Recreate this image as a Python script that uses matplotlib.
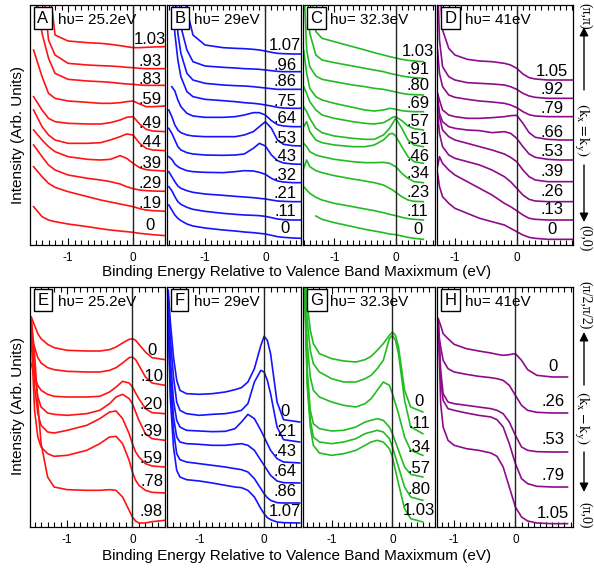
import numpy as np
import matplotlib.pyplot as plt
from matplotlib.ticker import MultipleLocator
from matplotlib.transforms import blended_transform_factory

plt.rcParams['font.family'] = ['Liberation Sans', 'DejaVu Sans']
plt.rcParams['axes.unicode_minus'] = False
plt.rcParams['mathtext.fontset'] = 'stix'

nan = np.nan

# ---- top row: cut along kx=ky ----
# A, hv = 25.2 eV
x_a = [-1.53, -1.4, -1.3, -1.2, -1.0, -0.7, -0.5, -0.35, -0.2, -0.1, 0.0, 0.1, 0.2, 0.3, 0.5]
k_a = ['0', '.19', '.29', '.39', '.44', '.49', '.59', '.83', '.93', '1.03']
y_a = [
    [115, 85, 75, 70, 63, 55, 49, 45, 42, 40, 38, 35, 33, 31, 28],
    [235, 205, 185, 173, 160, 145, 135, 129, 123, 119, 115, 109, 105, 103, 101],
    [300, 265, 240, 225, 210, 200, 195, 190, 183, 175, 169, 165, 163, 162, 161],
    [345, 315, 295, 280, 265, 257, 255, 257, 268, 260, 245, 232, 226, 224, 222],
    [405, 355, 330, 315, 305, 305, 307, 315, 325, 333, 330, 305, 290, 285, 283],
    [445, 405, 380, 370, 365, 363, 363, 367, 375, 383, 385, 363, 347, 342, 340],
    [585, 505, 455, 440, 432, 428, 425, 425, 427, 430, 432, 423, 415, 415, 417],
    [800, 635, 560, 515, 497, 492, 490, 488, 485, 483, 482, 480, 479, 479, 479],
    [nan, 800, 615, 570, 545, 540, 538, 537, 535, 533, 532, 530, 529, 529, 529],
    [nan, nan, 800, 630, 612, 607, 605, 602, 598, 595, 592, 592, 593, 594, 595],
]
lab_a = [60, 123, 183, 245, 307, 365, 437, 497, 550, 615]

# B, hv = 29 eV
x_b = [-1.6, -1.55, -1.5, -1.45, -1.4, -1.3, -1.2, -1.0, -0.7, -0.5, -0.35, -0.2, -0.1, 0.0, 0.1, 0.2, 0.3, 0.45, 0.6]
k_b = ['0', '.11', '.21', '.32', '.43', '.53', '.64', '.75', '.86', '.96', '1.07']
y_b = [
    [120, 105, 90, 80, 73, 63, 57, 51, 45, 42, 39, 37, 35, 33, 29, 25, 23, 21, 20],
    [175, 163, 145, 130, 122, 113, 107, 101, 95, 92, 90, 89, 88, 86, 82, 78, 76, 75, 75],
    [220, 205, 190, 177, 170, 163, 158, 153, 149, 146, 144, 142, 140, 138, 135, 132, 131, 130, 130],
    [265, 257, 243, 235, 230, 223, 220, 218, 217, 220, 223, 222, 218, 212, 200, 192, 189, 187, 187],
    [350, 335, 315, 295, 285, 277, 273, 270, 269, 270, 273, 290, 305, 297, 270, 253, 246, 243, 242],
    [405, 385, 360, 345, 337, 330, 327, 325, 325, 325, 330, 340, 355, 370, 350, 315, 302, 298, 297],
    [nan, 475, 462, 435, 415, 395, 387, 383, 383, 385, 390, 397, 397, 390, 373, 361, 357, 355, 355],
    [nan, 800, 635, 555, 505, 460, 445, 437, 433, 430, 427, 425, 423, 420, 417, 413, 411, 410, 410],
    [nan, nan, 800, 635, 575, 515, 495, 485, 480, 478, 477, 475, 473, 471, 469, 467, 467, 467, 467],
    [nan, nan, nan, 800, 655, 585, 550, 537, 533, 531, 529, 528, 527, 525, 523, 521, 520, 520, 520],
    [nan, nan, nan, nan, 800, 705, 630, 600, 592, 590, 589, 587, 585, 582, 578, 575, 574, 573, 573],
]
lab_b = [50, 100, 155, 210, 265, 320, 380, 430, 490, 540, 600]

# C, hv = 32.3 eV
x_c = [-1.5, -1.45, -1.4, -1.3, -1.2, -1.0, -0.7, -0.5, -0.35, -0.2, -0.1, -0.05, 0.0, 0.1, 0.2, 0.3, 0.45]
k_c = ['0', '.11', '.23', '.34', '.46', '.51', '.57', '.69', '.80', '.91', '1.03']
y_c = [
    [nan, nan, nan, 87, 77, 67, 55, 47, 42, 37, 33, 32, 31, 27, 23, 20, 17],
    [175, 165, 155, 143, 135, 125, 115, 108, 103, 97, 92, 90, 88, 83, 79, 77, 75],
    [230, 255, 235, 223, 217, 208, 198, 192, 187, 180, 170, 165, 158, 145, 135, 131, 130],
    [305, 295, 280, 270, 265, 257, 250, 247, 247, 248, 245, 240, 235, 215, 200, 190, 187],
    [355, 370, 340, 315, 307, 300, 295, 295, 300, 315, 333, 335, 327, 295, 265, 250, 245],
    [415, 400, 380, 350, 337, 327, 320, 317, 317, 330, 350, 365, 380, 350, 315, 300, 295],
    [475, 455, 430, 405, 390, 380, 370, 365, 363, 367, 377, 383, 385, 373, 357, 349, 345],
    [585, 515, 470, 445, 435, 425, 413, 405, 402, 405, 410, 409, 407, 403, 401, 400, 400],
    [795, 585, 535, 507, 497, 490, 480, 475, 470, 467, 463, 461, 459, 455, 452, 451, 450],
    [nan, 795, 635, 570, 555, 547, 537, 530, 525, 520, 515, 513, 511, 507, 504, 502, 500],
    [nan, nan, 795, 640, 620, 610, 595, 585, 577, 570, 565, 563, 561, 557, 554, 552, 550],
]
lab_c = [45, 100, 157, 213, 265, 317, 370, 423, 477, 527, 580]

# D, hv = 41 eV
x_d = [-1.28, -1.25, -1.2, -1.1, -1.0, -0.8, -0.6, -0.4, -0.2, -0.1, 0.0, 0.1, 0.2, 0.3, 0.5, 0.7, 0.9]
k_d = ['0', '.13', '.26', '.39', '.53', '.66', '.79', '.92', '1.05']
y_d = [
    [215, 175, 145, 125, 110, 95, 80, 70, 60, 50, 40, 30, 23, 20, 17, 17, 17],
    [235, 265, 245, 225, 210, 190, 170, 150, 125, 115, 103, 90, 80, 77, 75, 75, 75],
    [395, 335, 295, 270, 260, 250, 240, 225, 205, 190, 170, 150, 137, 132, 130, 130, 130],
    [435, 385, 345, 325, 315, 305, 295, 285, 273, 263, 250, 225, 205, 195, 190, 190, 190],
    [445, 395, 370, 355, 350, 345, 343, 337, 340, 335, 320, 295, 273, 263, 257, 255, 255],
    [455, 435, 405, 390, 385, 380, 380, 382, 385, 388, 389, 365, 337, 323, 317, 315, 315],
    [585, 515, 475, 450, 443, 437, 432, 429, 425, 420, 412, 400, 391, 387, 385, 385, 385],
    [795, 615, 535, 505, 495, 487, 485, 483, 480, 475, 467, 455, 447, 443, 440, 440, 440],
    [nan, 795, 645, 590, 570, 557, 552, 550, 545, 540, 530, 513, 502, 498, 495, 495, 495],
]
lab_d = [47, 105, 162, 220, 280, 337, 410, 465, 520]

# ---- bottom row: cut along kx-ky ----
# E, hv = 25.2 eV
x_e = [-1.55, -1.5, -1.45, -1.4, -1.3, -1.2, -1.0, -0.7, -0.5, -0.35, -0.25, -0.15, -0.05, 0.0, 0.05, 0.1, 0.2, 0.3, 0.5]
k_e = ['0', '.10', '.20', '.39', '.59', '.78', '.98']
y_e = [
    [630, 605, 580, 565, 548, 538, 530, 528, 528, 532, 540, 552, 563, 565, 560, 548, 525, 508, 502],
    [570, 540, 508, 492, 478, 472, 467, 465, 465, 470, 478, 492, 508, 510, 502, 485, 450, 432, 425],
    [490, 450, 425, 410, 398, 392, 390, 390, 392, 405, 420, 437, 432, 420, 402, 385, 355, 343, 340],
    [620, 470, 390, 360, 342, 338, 335, 340, 350, 370, 390, 398, 385, 370, 345, 320, 280, 265, 260],
    [610, 420, 340, 305, 285, 282, 290, 305, 325, 345, 348, 325, 280, 250, 225, 210, 190, 183, 180],
    [570, 350, 270, 240, 220, 212, 215, 230, 250, 270, 272, 250, 200, 165, 140, 125, 110, 104, 102],
    [625, 520, 370, 250, 150, 120, 112, 110, 110, 112, 110, 90, 50, 30, 18, 12, 12, 16, 20],
]
lab_e = [530, 452, 368, 285, 205, 135, 45]

# F, hv = 29 eV
x_f = [-1.48, -1.45, -1.4, -1.35, -1.3, -1.2, -1.0, -0.8, -0.6, -0.45, -0.35, -0.25, -0.15, -0.05, 0.0, 0.05, 0.1, 0.2, 0.3, 0.55]
k_f = ['0', '.21', '.43', '.64', '.86', '1.07']
y_f = [
    [710, 620, 510, 440, 410, 400, 398, 400, 405, 412, 418, 435, 475, 545, 572, 560, 520, 375, 322, 315],
    [690, 570, 450, 375, 350, 340, 335, 338, 340, 345, 350, 370, 435, 470, 465, 440, 400, 300, 262, 255],
    [670, 510, 380, 320, 300, 290, 288, 286, 287, 295, 315, 338, 325, 290, 270, 250, 230, 205, 195, 192],
    [650, 470, 330, 270, 255, 250, 248, 245, 245, 248, 250, 245, 230, 200, 185, 170, 155, 138, 133, 132],
    [620, 430, 290, 220, 202, 195, 190, 185, 180, 175, 172, 165, 145, 115, 100, 88, 80, 73, 72, 72],
    [620, 390, 240, 170, 150, 142, 138, 132, 125, 120, 118, 110, 90, 55, 40, 28, 22, 15, 13, 12],
]
lab_f = [345, 285, 225, 168, 108, 45]

# G, hv = 32.3 eV
x_g = [-1.45, -1.4, -1.35, -1.3, -1.2, -1.0, -0.8, -0.6, -0.45, -0.35, -0.25, -0.15, -0.05, 0.0, 0.05, 0.1, 0.2, 0.3, 0.5]
k_g = ['0', '.11', '.34', '.57', '.80', '1.03']
y_g = [
    [770, 670, 590, 550, 520, 505, 498, 495, 502, 512, 530, 550, 575, 585, 575, 540, 410, 360, 345],
    [770, 620, 530, 490, 465, 445, 435, 435, 445, 455, 475, 500, 565, 575, 560, 520, 380, 300, 280],
    [770, 550, 450, 410, 390, 375, 365, 360, 370, 385, 410, 435, 425, 400, 370, 340, 270, 230, 215],
    [770, 470, 350, 310, 295, 288, 290, 300, 315, 320, 325, 320, 300, 280, 255, 230, 180, 158, 150],
    [770, 440, 320, 270, 255, 250, 255, 265, 280, 285, 290, 285, 265, 240, 210, 180, 120, 90, 80],
    [770, 420, 300, 245, 222, 215, 220, 230, 245, 255, 260, 255, 235, 210, 170, 130, 55, 25, 15],
]
lab_g = [375, 312, 240, 175, 112, 50]

# H, hv = 41 eV
x_h = [-1.26, -1.22, -1.18, -1.1, -1.0, -0.8, -0.6, -0.4, -0.3, -0.2, -0.1, 0.0, 0.1, 0.2, 0.35, 0.6, 0.85]
k_h = ['0', '.26', '.53', '.79', '1.05']
y_h = [
    [625, 605, 580, 565, 548, 535, 528, 522, 518, 515, 517, 520, 500, 472, 455, 450, 450],
    [590, 540, 500, 475, 465, 458, 452, 448, 445, 440, 425, 395, 365, 350, 344, 342, 342],
    [620, 470, 400, 375, 370, 365, 360, 355, 350, 340, 315, 275, 240, 230, 226, 225, 225],
    [620, 440, 380, 355, 350, 342, 335, 330, 322, 300, 250, 190, 145, 130, 122, 120, 120],
    [625, 370, 300, 260, 245, 235, 230, 222, 212, 180, 120, 60, 30, 18, 12, 10, 10],
]
lab_h = [482, 378, 262, 155, 40]

red, blue, green, purple = '#ff1414', '#1414ff', '#22bb22', '#8c0c8c'

panels = [
    dict(x=x_a, y=y_a, k=k_a, lab=lab_a, c=red, lim=(-1.585, 0.49), name='A', hv='25.2', lx=0.89),
    dict(x=x_b, y=y_b, k=k_b, lab=lab_b, c=blue, lim=(-1.63, 0.59), name='B', hv='29', lx=0.88),
    dict(x=x_c, y=y_c, k=k_c, lab=lab_c, c=green, lim=(-1.51, 0.64), name='C', hv='32.3', lx=0.87),
    dict(x=x_d, y=y_d, k=k_d, lab=lab_d, c=purple, lim=(-1.29, 0.91), name='D', hv='41', lx=0.845),
    dict(x=x_e, y=y_e, k=k_e, lab=lab_e, c=red, lim=(-1.57, 0.50), name='E', hv='25.2', lx=0.90),
    dict(x=x_f, y=y_f, k=k_f, lab=lab_f, c=blue, lim=(-1.50, 0.57), name='F', hv='29', lx=0.88),
    dict(x=x_g, y=y_g, k=k_g, lab=lab_g, c=green, lim=(-1.47, 0.70), name='G', hv='32.3', lx=0.88),
    dict(x=x_h, y=y_h, k=k_h, lab=lab_h, c=purple, lim=(-1.28, 0.94), name='H', hv='41', lx=0.853),
]

W, H = 594.0, 570.0
fig = plt.figure(figsize=(W / 100, H / 100), dpi=100)
cols = [(30, 165), (167, 301), (303, 435), (437, 573)]
rows = [(5, 245), (287, 527)]

for i, p in enumerate(panels):
    (l, r), (t, b) = cols[i % 4], rows[i // 4]
    ax = fig.add_axes([l / W, 1 - b / H, (r - l) / W, (b - t) / H])
    for y in p['y']:
        ax.plot(p['x'], y, color=p['c'], lw=1.2)
    ax.axvline(0, color='#222222', lw=1.0)
    ax.set_xlim(p['lim'])
    ax.set_ylim(0, 720)
    ax.set_yticks([])
    ax.xaxis.set_major_locator(MultipleLocator(1))
    ax.xaxis.set_minor_locator(MultipleLocator(0.1))
    ax.tick_params(axis='x', which='both', direction='in', top=True, labelsize=8.5, pad=5, width=0.8)
    ax.tick_params(axis='x', which='major', length=5)
    ax.tick_params(axis='x', which='minor', length=3.5)
    for s in ax.spines.values():
        s.set_linewidth(0.9)
    tr = blended_transform_factory(ax.transAxes, ax.transData)
    for k, yy in zip(p['k'], p['lab']):
        ax.text(p['lx'], yy, k, transform=tr, ha='center', va='center', fontsize=12)
    ax.text(0.055, 0.977, p['name'], transform=ax.transAxes, ha='left', va='top', fontsize=12,
            bbox=dict(boxstyle='square,pad=0.2', fc='white', ec='black', lw=1))
    ax.text(0.205, 0.937, 'h\u03c5= %seV' % p['hv'], transform=ax.transAxes,
            ha='left', va='center', fontsize=11)

# overlay in pixel coordinates for the shared labels
ov = fig.add_axes([0, 0, 1, 1])
ov.set_xlim(0, W)
ov.set_ylim(H, 0)
ov.axis('off')

for yc in (135, 406):
    ov.text(18, yc, 'Intensity (Arb. Units)', rotation=90, ha='center', va='center', fontsize=11)
for yc in (272, 556):
    ov.text(297, yc, 'Binding Energy Relative to Valence Band Maxixmum (eV)',
            ha='center', va='center', fontsize=11)

serif = ['Liberation Serif', 'DejaVu Serif']


def side(txt, y, size=10, x=585):
    ov.text(x, y, txt, rotation=270, ha='center', va='center', fontsize=size, family=serif)


def arrow(y0, y1):
    ov.annotate('', xy=(584, y1), xytext=(584, y0),
                arrowprops=dict(arrowstyle='-|>', color='k', lw=1, mutation_scale=13,
                                shrinkA=0, shrinkB=0))


side('(\u03c0,\u03c0)', 16)
arrow(90, 27)
side(r'$\mathrm{(k_x=k_y)}$', 130, 11, 582)
arrow(165, 222)
side('(0,0)', 238)

side('(\u03c0/2,\u03c0/2)', 305)
arrow(385, 332)
side(r'$\mathrm{(k_x-k_y)}$', 418, 11, 582)
arrow(452, 492)
side('(\u03c0,0)', 515)

fig.savefig('out.png', dpi=100)
